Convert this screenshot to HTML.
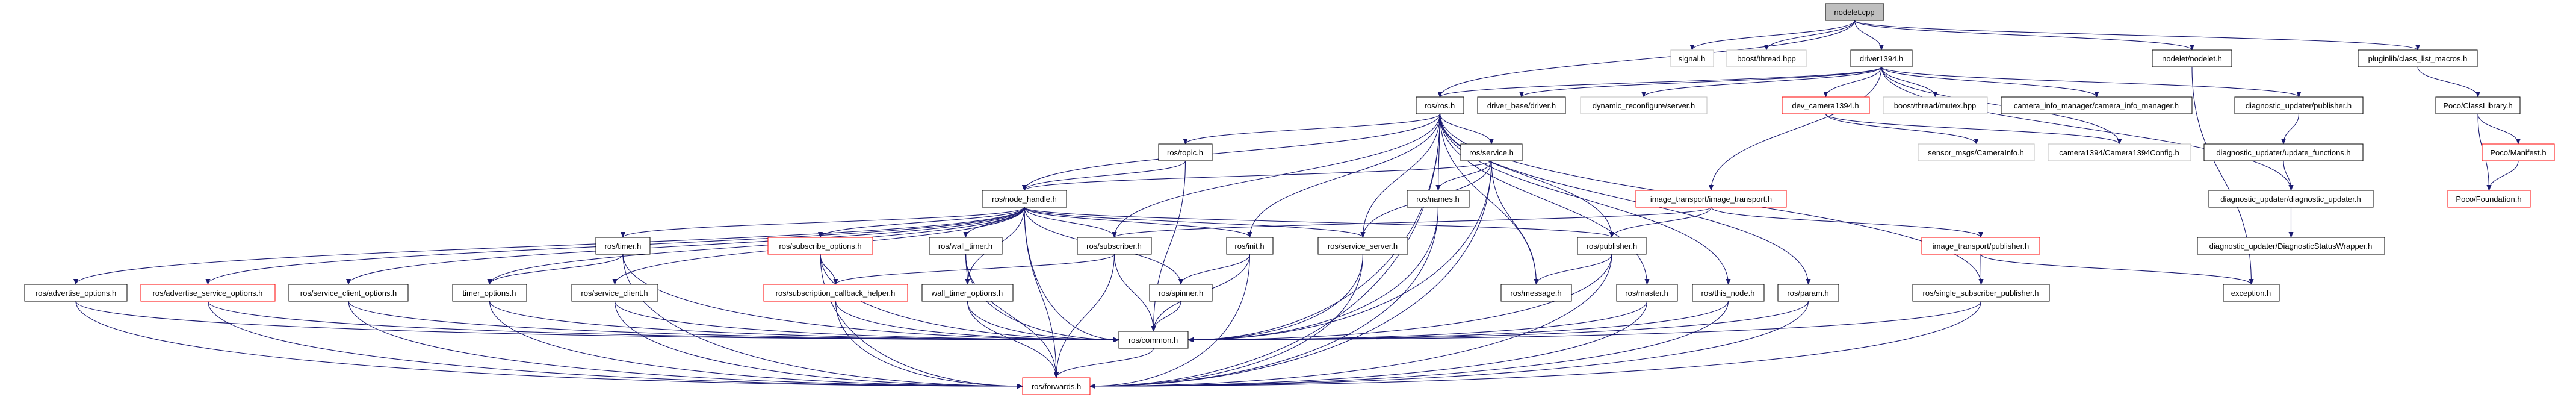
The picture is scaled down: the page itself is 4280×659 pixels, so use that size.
<!DOCTYPE html>
<html><head><meta charset="utf-8"><style>
html,body{margin:0;padding:0;background:#fff;}
svg{display:block;}
text{font-family:"Liberation Sans",sans-serif;font-size:13px;text-anchor:middle;fill:#000;}
</style></head><body>
<svg id="g" width="4280" height="659" viewBox="0 0 4280 659" xmlns="http://www.w3.org/2000/svg">
<defs><marker id="a" markerWidth="10" markerHeight="8" refX="9" refY="4" orient="auto" markerUnits="userSpaceOnUse"><path d="M0,0 L10,4 L0,8 z" fill="#191970"/></marker></defs>
<g id="edges" fill="none" stroke="#191970" stroke-width="1.1"></g>
<g id="nodes">
<rect x="3033" y="6" width="97" height="28" fill="#bfbfbf" stroke="#000"/><text x="3081" y="25">nodelet.cpp</text>
<rect x="2776" y="83" width="71" height="28" fill="#fff" stroke="#bfbfbf"/><text x="2811" y="102">signal.h</text>
<rect x="2869" y="83" width="132" height="28" fill="#fff" stroke="#bfbfbf"/><text x="2935" y="102">boost/thread.hpp</text>
<rect x="3075" y="83" width="102" height="28" fill="#fff" stroke="#000"/><text x="3126" y="102">driver1394.h</text>
<rect x="3576" y="83" width="132" height="28" fill="#fff" stroke="#000"/><text x="3642" y="102">nodelet/nodelet.h</text>
<rect x="3918" y="83" width="198" height="28" fill="#fff" stroke="#000"/><text x="4017" y="102">pluginlib/class_list_macros.h</text>
<rect x="2353" y="161" width="79" height="28" fill="#fff" stroke="#000"/><text x="2392" y="180">ros/ros.h</text>
<rect x="2455" y="161" width="146" height="28" fill="#fff" stroke="#000"/><text x="2528" y="180">driver_base/driver.h</text>
<rect x="2626" y="161" width="210" height="28" fill="#fff" stroke="#bfbfbf"/><text x="2731" y="180">dynamic_reconfigure/server.h</text>
<rect x="2961" y="161" width="145" height="28" fill="#fff" stroke="#f00"/><text x="3033" y="180">dev_camera1394.h</text>
<rect x="3129" y="161" width="173" height="28" fill="#fff" stroke="#bfbfbf"/><text x="3215" y="180">boost/thread/mutex.hpp</text>
<rect x="3325" y="161" width="317" height="28" fill="#fff" stroke="#000"/><text x="3483" y="180">camera_info_manager/camera_info_manager.h</text>
<rect x="3713" y="161" width="213" height="28" fill="#fff" stroke="#000"/><text x="3819" y="180">diagnostic_updater/publisher.h</text>
<rect x="4047" y="161" width="140" height="28" fill="#fff" stroke="#000"/><text x="4117" y="180">Poco/ClassLibrary.h</text>
<rect x="1925" y="239" width="89" height="28" fill="#fff" stroke="#000"/><text x="1969" y="258">ros/topic.h</text>
<rect x="2427" y="239" width="102" height="28" fill="#fff" stroke="#000"/><text x="2478" y="258">ros/service.h</text>
<rect x="3187" y="239" width="193" height="28" fill="#fff" stroke="#bfbfbf"/><text x="3283" y="258">sensor_msgs/CameraInfo.h</text>
<rect x="3403" y="239" width="237" height="28" fill="#fff" stroke="#bfbfbf"/><text x="3521" y="258">camera1394/Camera1394Config.h</text>
<rect x="3662" y="239" width="264" height="28" fill="#fff" stroke="#000"/><text x="3794" y="258">diagnostic_updater/update_functions.h</text>
<rect x="4124" y="239" width="120" height="28" fill="#fff" stroke="#f00"/><text x="4184" y="258">Poco/Manifest.h</text>
<rect x="1632" y="316" width="140" height="28" fill="#fff" stroke="#000"/><text x="1702" y="335">ros/node_handle.h</text>
<rect x="2338" y="316" width="103" height="28" fill="#fff" stroke="#000"/><text x="2389" y="335">ros/names.h</text>
<rect x="2718" y="316" width="250" height="28" fill="#fff" stroke="#f00"/><text x="2843" y="335">image_transport/image_transport.h</text>
<rect x="3670" y="316" width="273" height="28" fill="#fff" stroke="#000"/><text x="3806" y="335">diagnostic_updater/diagnostic_updater.h</text>
<rect x="4067" y="316" width="137" height="28" fill="#fff" stroke="#f00"/><text x="4135" y="335">Poco/Foundation.h</text>
<rect x="990" y="394" width="90" height="28" fill="#fff" stroke="#000"/><text x="1035" y="413">ros/timer.h</text>
<rect x="1276" y="394" width="174" height="28" fill="#fff" stroke="#f00"/><text x="1363" y="413">ros/subscribe_options.h</text>
<rect x="1544" y="394" width="121" height="28" fill="#fff" stroke="#000"/><text x="1604" y="413">ros/wall_timer.h</text>
<rect x="1790" y="394" width="123" height="28" fill="#fff" stroke="#000"/><text x="1851" y="413">ros/subscriber.h</text>
<rect x="2038" y="394" width="77" height="28" fill="#fff" stroke="#000"/><text x="2076" y="413">ros/init.h</text>
<rect x="2190" y="394" width="149" height="28" fill="#fff" stroke="#000"/><text x="2264" y="413">ros/service_server.h</text>
<rect x="2621" y="394" width="114" height="28" fill="#fff" stroke="#000"/><text x="2678" y="413">ros/publisher.h</text>
<rect x="3193" y="394" width="196" height="28" fill="#fff" stroke="#f00"/><text x="3291" y="413">image_transport/publisher.h</text>
<rect x="3651" y="394" width="311" height="28" fill="#fff" stroke="#000"/><text x="3806" y="413">diagnostic_updater/DiagnosticStatusWrapper.h</text>
<rect x="41" y="472" width="170" height="28" fill="#fff" stroke="#000"/><text x="126" y="491">ros/advertise_options.h</text>
<rect x="234" y="472" width="223" height="28" fill="#fff" stroke="#f00"/><text x="345" y="491">ros/advertise_service_options.h</text>
<rect x="480" y="472" width="198" height="28" fill="#fff" stroke="#000"/><text x="579" y="491">ros/service_client_options.h</text>
<rect x="752" y="472" width="123" height="28" fill="#fff" stroke="#000"/><text x="813" y="491">timer_options.h</text>
<rect x="950" y="472" width="143" height="28" fill="#fff" stroke="#000"/><text x="1021" y="491">ros/service_client.h</text>
<rect x="1269" y="472" width="239" height="28" fill="#fff" stroke="#f00"/><text x="1388" y="491">ros/subscription_callback_helper.h</text>
<rect x="1532" y="472" width="151" height="28" fill="#fff" stroke="#000"/><text x="1607" y="491">wall_timer_options.h</text>
<rect x="1910" y="472" width="104" height="28" fill="#fff" stroke="#000"/><text x="1962" y="491">ros/spinner.h</text>
<rect x="2494" y="472" width="117" height="28" fill="#fff" stroke="#000"/><text x="2552" y="491">ros/message.h</text>
<rect x="2686" y="472" width="101" height="28" fill="#fff" stroke="#000"/><text x="2736" y="491">ros/master.h</text>
<rect x="2812" y="472" width="119" height="28" fill="#fff" stroke="#000"/><text x="2871" y="491">ros/this_node.h</text>
<rect x="2954" y="472" width="101" height="28" fill="#fff" stroke="#000"/><text x="3004" y="491">ros/param.h</text>
<rect x="3178" y="472" width="227" height="28" fill="#fff" stroke="#000"/><text x="3291" y="491">ros/single_subscriber_publisher.h</text>
<rect x="3694" y="472" width="93" height="28" fill="#fff" stroke="#000"/><text x="3740" y="491">exception.h</text>
<rect x="1859" y="550" width="115" height="28" fill="#fff" stroke="#000"/><text x="1916" y="569">ros/common.h</text>
<rect x="1699" y="627" width="112" height="28" fill="#fff" stroke="#f00"/><text x="1755" y="646">ros/forwards.h</text>
</g>
</svg>
<script>
var N={nc:[3033,3130,0],sig:[2776,2847,1],bth:[2869,3001,1],drv:[3075,3177,1],nn:[3576,3708,1],plg:[3918,4116,1],
ros:[2353,2432,2],dbd:[2455,2601,2],dyn:[2626,2836,2],dev:[2961,3106,2],mtx:[3129,3302,2],cim:[3325,3642,2],dup:[3713,3926,2],pcl:[4047,4187,2],
top:[1925,2014,3],srv:[2427,2529,3],sci:[3187,3380,3],c13:[3403,3640,3],duf:[3662,3926,3],pman:[4124,4244,3],
nh:[1632,1772,4],nam:[2338,2441,4],itt:[2718,2968,4],dud:[3670,3943,4],pfd:[4067,4204,4],
tmr:[990,1080,5],sop:[1276,1450,5],wt:[1544,1665,5],sub:[1790,1913,5],ini:[2038,2115,5],ss:[2190,2339,5],pub:[2621,2735,5],itp:[3193,3389,5],dsw:[3651,3962,5],
ao:[41,211,6],aso:[234,457,6],sco:[480,678,6],to:[752,875,6],sc:[950,1093,6],sch:[1269,1508,6],wto:[1532,1683,6],spn:[1910,2014,6],msg:[2494,2611,6],mst:[2686,2787,6],thn:[2812,2931,6],prm:[2954,3055,6],ssp:[3178,3405,6],exc:[3694,3787,6],
com:[1859,1974,7],fwd:[1699,1811,8]};
var T=[6,83,161,239,316,394,472,550,627];
var E="nc-sig nc-bth nc-drv nc-ros nc-nn nc-plg drv-ros drv-dbd drv-dyn drv-dev drv-mtx drv-cim drv-dup drv-itt drv-c13 drv-dud dev-sci dev-c13 nn-exc plg-pcl pcl-pman pcl-pfd pman-pfd dup-duf duf-dud dud-dsw itt-pub itt-itp itt-sub itp-ssp itp-exc ssp-com ssp-fwd ros-nh ros-top ros-srv ros-nam ros-ini ros-sub ros-ss ros-pub ros-msg ros-mst ros-thn ros-prm ros-ssp ros-com ros-fwd srv-nh srv-nam srv-msg srv-com srv-fwd srv-ss top-nh top-com nam-com nam-fwd nh-ao nh-aso nh-sco nh-to nh-tmr nh-sc nh-sop nh-wt nh-wto nh-sub nh-ini nh-spn nh-ss nh-pub nh-com nh-fwd tmr-to tmr-com tmr-fwd sop-sch sop-com sop-fwd wt-wto wt-com wt-fwd sub-sch sub-com sub-fwd ini-spn ini-com ini-fwd ss-com ss-fwd pub-msg pub-com pub-fwd ao-com ao-fwd aso-com aso-fwd sco-com sco-fwd to-com to-fwd sc-com sc-fwd sch-com sch-fwd wto-com wto-fwd spn-com mst-com mst-fwd thn-com thn-fwd prm-com prm-fwd com-fwd".split(" ");
var g=document.getElementById("edges"),s="";
E.forEach(function(e){var p=e.split("-"),a=N[p[0]],b=N[p[1]];
var sx=(a[0]+a[1])/2,sy=T[a[2]]+28,tx=(b[0]+b[1])/2,ty=T[b[2]];
var side=(p[1]=="com"||p[1]=="fwd")&&Math.abs(tx-sx)>200;
if(side){ty=T[b[2]]+14;tx=tx<sx?b[1]:b[0];
s+='<path marker-end="url(#a)" d="M'+sx+','+sy+' C'+sx+','+(sy+(ty-sy)*0.7)+' '+(tx+(sx-tx)*0.5)+','+ty+' '+tx+','+ty+'"/>';return;}
var dy=ty-sy;s+='<path marker-end="url(#a)" d="M'+sx+','+sy+' C'+sx+','+(sy+dy*0.5)+' '+tx+','+(ty-dy*0.5)+' '+tx+','+ty+'"/>';});
g.innerHTML=s;
</script>
</body></html>
